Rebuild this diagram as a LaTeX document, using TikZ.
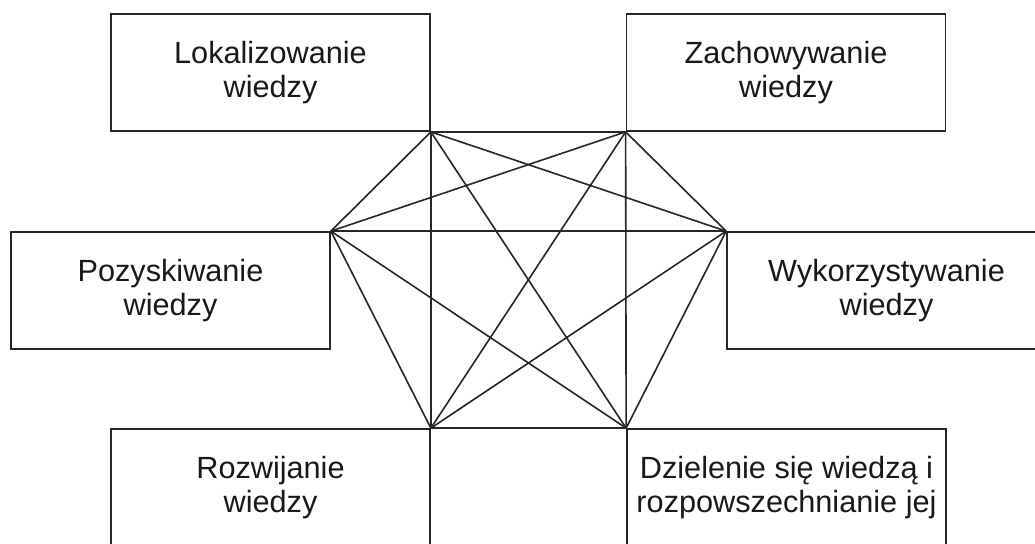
\documentclass[tikz,border=0pt]{standalone}
\usepackage{fontspec}
\setmainfont{Liberation Sans}
\begin{document}
\begin{tikzpicture}[x=0.75pt,y=-0.75pt,
  box/.style={draw=black!85,line width=1.3pt,rectangle,minimum width=239.25pt,minimum height=87.75pt,inner sep=0pt,align=center,font=\fontsize{23}{26}\selectfont,text=black!90},
  link/.style={draw=black!85,line width=1.2pt}]
\useasboundingbox (0,0) rectangle (1035,543);
\clip (0,0) rectangle (1035,543);
\fill[white] (0,0) rectangle (1035,543);
\node[box] (L) at (270.5,72.5) {Lokalizowanie\\wiedzy};
\node[box] (Z) at (786,72.5) {Zachowywanie\\wiedzy};
\node[box] (P) at (170.5,290.5) {Pozyskiwanie\\wiedzy};
\node[box] (W) at (886.5,290.5) {Wykorzystywanie\\wiedzy};
\node[box] (R) at (270.5,487.5) {Rozwijanie\\wiedzy};
\node[box] (D) at (786.5,487.5) {Dzielenie się wiedzą i\\rozpowszechnianie jej};
\coordinate (l) at (L.south east);
\coordinate (z) at (Z.south west);
\coordinate (p) at (P.north east);
\coordinate (w) at (W.north west);
\coordinate (r) at (R.north east);
\coordinate (d) at (D.north west);
\draw[link] (l) -- (z);
\draw[link] (l) -- (p);
\draw[link] (l) -- (w);
\draw[link] (l) -- (r);
\draw[link] (l) -- (d);
\draw[link] (z) -- (p);
\draw[link] (z) -- (w);
\draw[link] (z) -- (r);
\draw[link] (z) -- (d);
\draw[link] (p) -- (w);
\draw[link] (p) -- (r);
\draw[link] (p) -- (d);
\draw[link] (w) -- (r);
\draw[link] (w) -- (d);
\draw[link] (r) -- (d);
\end{tikzpicture}
\end{document}
